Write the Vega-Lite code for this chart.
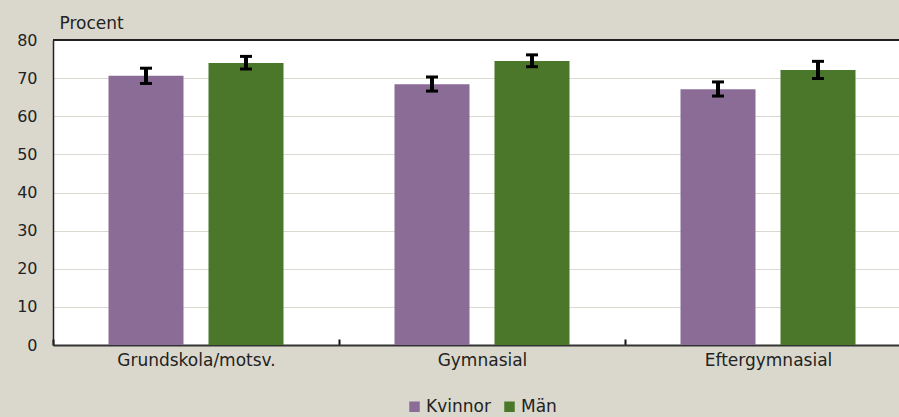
{
  "$schema": "https://vega.github.io/schema/vega-lite/v6.json",
  "width": 846,
  "height": 305,
  "autosize": {"type": "none"},
  "padding": {"top": 40, "left": 53, "right": 0, "bottom": 72},
  "background": "#dad8cc",
  "config": {
    "font": "DejaVu Sans",
    "view": {"fill": "white", "stroke": null},
    "axisY": {
      "titleAngle": 0, "titleAlign": "left", "titleBaseline": "alphabetic",
      "titleX": 6, "titleY": -12, "titleFontSize": 17, "titleFontWeight": "normal", "titleColor": "#222",
      "tickCount": 10, "labelOverlap": false, "tickSize": 0, "labelPadding": 16,
      "labelFontSize": 16, "labelColor": "#222", "domainColor": "#222", "domainWidth": 1.5,
      "grid": true, "gridColor": "#dcdad0", "gridWidth": 1
    }
  },
  "data": {
    "values": [
      {"utb": "Grundskola/motsv.", "kon": "Kvinnor", "v": 70.6, "lo": 68.6, "hi": 72.6},
      {"utb": "Grundskola/motsv.", "kon": "Män", "v": 74.0, "lo": 72.4, "hi": 75.7},
      {"utb": "Gymnasial", "kon": "Kvinnor", "v": 68.4, "lo": 66.6, "hi": 70.3},
      {"utb": "Gymnasial", "kon": "Män", "v": 74.5, "lo": 73.0, "hi": 76.1},
      {"utb": "Eftergymnasial", "kon": "Kvinnor", "v": 67.1, "lo": 65.3, "hi": 69.0},
      {"utb": "Eftergymnasial", "kon": "Män", "v": 72.1, "lo": 69.9, "hi": 74.4}
    ]
  },
  "layer": [
    {
      "mark": {"type": "bar"},
      "encoding": {
        "x": {
          "field": "utb", "type": "nominal", "sort": null,
          "scale": {"range": [0, 858], "paddingInner": 0, "paddingOuter": 0},
          "axis": {
            "title": null, "labelAngle": 0, "labelFontSize": 17, "labelColor": "#222",
            "labelPadding": 13, "domainColor": "#333", "domainWidth": 2,
            "tickBand": "extent", "tickSize": -6, "tickColor": "#111", "tickWidth": 2, "grid": false
          }
        },
        "xOffset": {"field": "kon", "type": "nominal", "scale": {"paddingInner": 0.25, "paddingOuter": 0.555}},
        "y": {
          "field": "v", "type": "quantitative",
          "scale": {"domain": [0, 80], "nice": false},
          "axis": {"title": "Procent", "tickCount": 10, "values": [0, 10, 20, 30, 40, 50, 60, 70, 80]}
        },
        "color": {
          "field": "kon", "type": "nominal",
          "scale": {"domain": ["Kvinnor", "Män"], "range": ["#8b6c97", "#4a772a"]},
          "legend": {
            "title": null, "orient": "none", "legendX": 353, "legendY": 358, "direction": "horizontal", "symbolType": "square",
            "symbolSize": 110, "symbolStrokeWidth": 0, "labelFontSize": 17, "labelColor": "#222",
            "labelOffset": 3, "columnPadding": 10, "symbolOpacity": 1
          }
        }
      }
    },
    {
      "mark": {"type": "rule", "color": "black", "strokeWidth": 4},
      "encoding": {
        "x": {"field": "utb", "type": "nominal", "sort": null},
        "xOffset": {"field": "kon", "type": "nominal"},
        "y": {"field": "lo", "type": "quantitative"},
        "y2": {"field": "hi"}
      }
    },
    {
      "mark": {"type": "tick", "color": "black", "thickness": 3, "size": 12, "opacity": 1},
      "encoding": {
        "x": {"field": "utb", "type": "nominal", "sort": null},
        "xOffset": {"field": "kon", "type": "nominal"},
        "y": {"field": "lo", "type": "quantitative"}
      }
    },
    {
      "mark": {"type": "tick", "color": "black", "thickness": 3, "size": 12, "opacity": 1},
      "encoding": {
        "x": {"field": "utb", "type": "nominal", "sort": null},
        "xOffset": {"field": "kon", "type": "nominal"},
        "y": {"field": "hi", "type": "quantitative"}
      }
    },
    {
      "mark": {"type": "rule", "color": "#222", "strokeWidth": 1.5},
      "encoding": {"y": {"datum": 80, "type": "quantitative"}}
    }
  ]
}
